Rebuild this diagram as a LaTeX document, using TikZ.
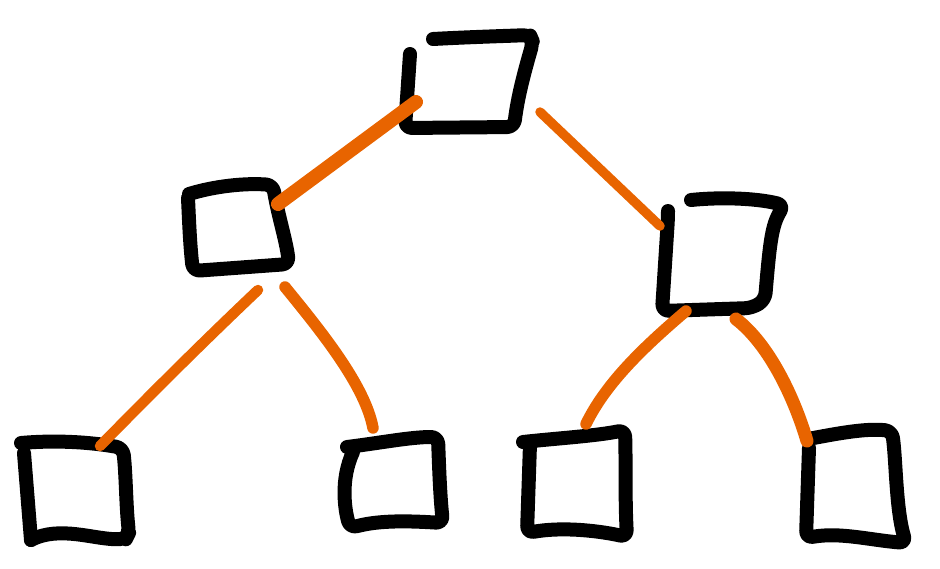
\documentclass[tikz,border=0pt]{standalone}
\definecolor{edgeorange}{HTML}{E86400}
\tikzset{
  box/.style={draw=black, line width=14pt, line cap=round, line join=round, rounded corners=7pt},
  link/.style={draw=edgeorange, line width=11.5pt, line cap=round},
}
\begin{document}
\begin{tikzpicture}[x=1pt,y=-1pt]
\useasboundingbox (0,0) rectangle (940,568);
% top box
\draw[box] (433,39) .. controls (470,37) and (505,36) .. (530,35) -- (533,42) .. controls (525,70) and (518,95) .. (514,127) -- (405,128) -- (410,54);
% mid-left box
\draw[box] (189,194) .. controls (215,186) and (245,183) .. (273,185) .. controls (278,215) and (286,240) .. (289,264) -- (193,271) .. controls (190,245) and (189,220) .. (188,198);
% mid-right box
\draw[box] (691,200) .. controls (720,197) and (755,198) .. (784,205) .. controls (772,225) and (770,240) .. (765,300) -- (752,308) -- (662,311) -- (668,218) -- (668,212);
% bottom boxes
\draw[box] (21,443) .. controls (55,440) and (90,442) .. (123,448) .. controls (126,475) and (126,505) .. (129,533) -- (126,539) .. controls (95,540) and (60,525) .. (31,540);
\draw[box] (24,453) -- (31,540);
\draw[box] (347,447) .. controls (380,443) and (410,437) .. (438,437) .. controls (439,465) and (440,495) .. (443,523) .. controls (410,521) and (380,520) .. (350,528) .. controls (345,510) and (340,480) .. (353,452);
\draw[box] (523,442) .. controls (560,438) and (595,436) .. (625,430) .. controls (626,465) and (625,500) .. (627,537) .. controls (595,530) and (560,527) .. (527,533) -- (530,444);
\draw[box] (808,439) .. controls (835,434) and (865,428) .. (892,431) .. controls (896,460) and (896,510) .. (906,543) .. controls (870,540) and (840,532) .. (806,538) -- (809,448);
% connector end points
\coordinate (tL) at (416,102);
\coordinate (tR) at (540,112);
\coordinate (mlT) at (278,204);
\coordinate (mrT) at (660,226);
\coordinate (mlA) at (258,290);
\coordinate (mlB) at (285,287);
\coordinate (mrA) at (686,311);
\coordinate (mrB) at (736,319);
\coordinate (b1) at (100,446);
\coordinate (b2) at (373,428);
\coordinate (b3) at (586,424);
\coordinate (b4) at (807,441);
% connectors
\draw[link, line width=14pt] (tL) -- (mlT);
\draw[link, line width=9.5pt] (tR) -- (mrT);
\draw[link, line width=10.5pt] (mlA) .. controls (200,345) and (150,395) .. (b1);
\draw[link] (mlB) .. controls (320,330) and (365,385) .. (b2);
\draw[link] (mrA) .. controls (640,350) and (605,385) .. (b3);
\draw[link, line width=13pt] (mrB) .. controls (770,345) and (795,400) .. (b4);
\end{tikzpicture}
\end{document}
